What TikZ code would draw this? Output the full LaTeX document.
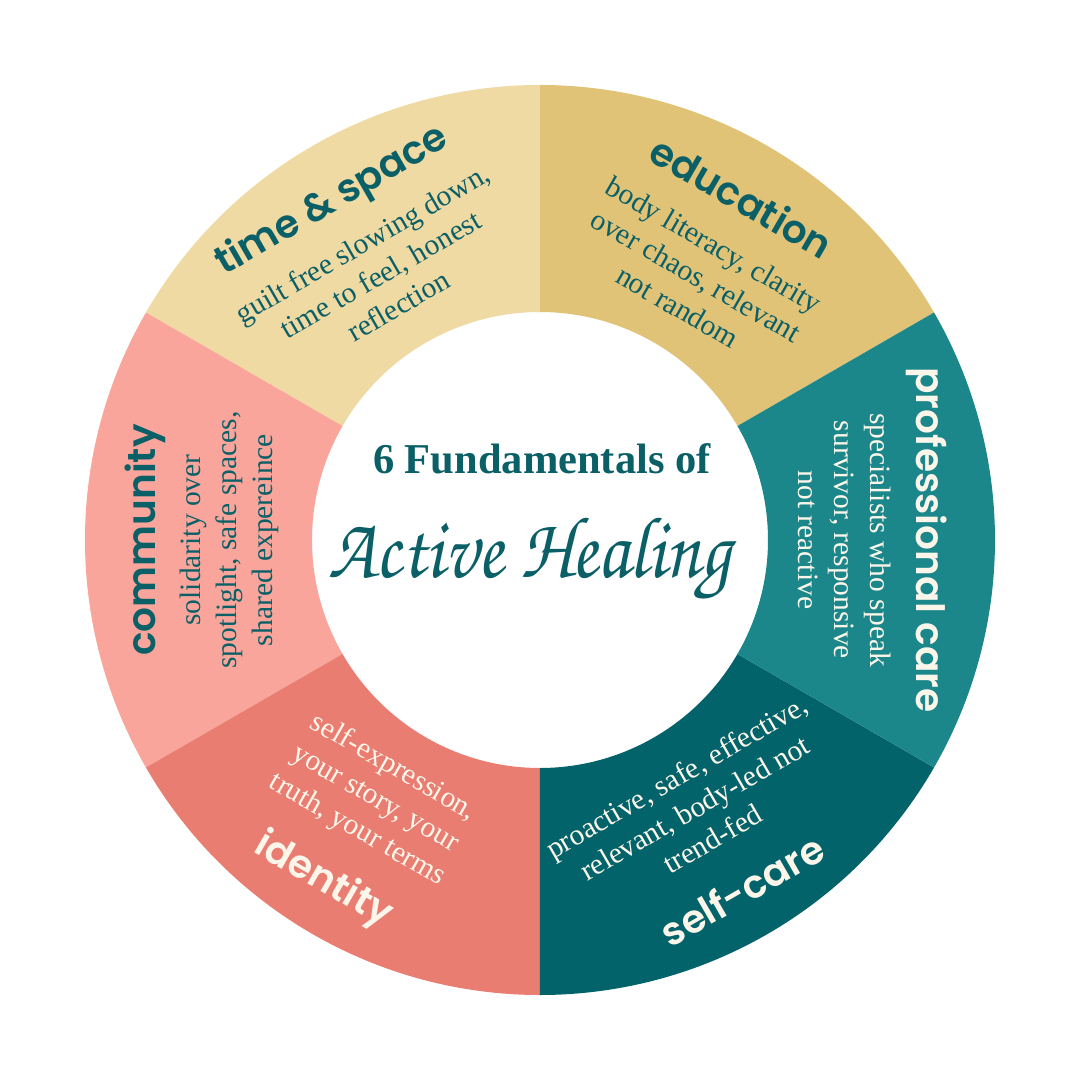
\documentclass[tikz,border=0pt]{standalone}
\usepackage{fontspec}
\setmainfont{Liberation Serif}
\newfontfamily\headfont{Poppins SemiBold}
\newfontfamily\chorusfont{texgyrechorus-mediumitalic.otf}
\definecolor{cEdu}{HTML}{E0C377}
\definecolor{cTime}{HTML}{F0DAA3}
\definecolor{cComm}{HTML}{F9A59B}
\definecolor{cIdent}{HTML}{E97D71}
\definecolor{cSelf}{HTML}{02636A}
\definecolor{cProf}{HTML}{1B878B}
\definecolor{ink}{HTML}{0B5F67}
\definecolor{cream}{HTML}{FCF6EA}
\newcommand\ringseg[3]{%
  \fill[#3] (#1:455pt) arc[start angle=#1, end angle=#2, radius=455pt]
    -- (#2:228pt) arc[start angle=#2, end angle=#1, radius=228pt] -- cycle;}
\tikzset{
  head/.style={font=\headfont\fontsize{39}{44}\selectfont, inner sep=0pt},
  body/.style={font=\fontsize{29.5}{36}\selectfont, align=center, inner sep=0pt},
}
\begin{document}
\begin{tikzpicture}[x=1pt,y=1pt]
\useasboundingbox (-540,-540) rectangle (540,540);
\fill[white] (-540,-540) rectangle (540,540);
\ringseg{30}{90}{cEdu}
\ringseg{90}{150}{cTime}
\ringseg{150}{210}{cComm}
\ringseg{210}{270}{cIdent}
\ringseg{270}{330}{cSelf}
\ringseg{-30}{30}{cProf}
% education
\node[head, text=ink, rotate=-30] (eduH) at (59.5:398pt) {education};
\node[body, text=ink, rotate=-30] (eduB) at (59.5:307pt) {body literacy, clarity\\over chaos, relevant\\not random};
% time & space
\node[head, text=ink, rotate=30] (timeH) at (121.5:397pt) {time \& space};
\node[body, text=ink, rotate=30] (timeB) at (121:310pt) {guilt free slowing down,\\time to feel, honest\\reflection};
% professional care
\node[head, text=cream, rotate=-90] (profH) at (0:387pt) {professional care};
\node[body, text=cream, rotate=-90] (profB) at (0:305pt) {specialists who speak\\survivor, responsive\\not reactive};
% community
\node[head, text=ink, rotate=90] (commH) at (180:395pt) {community};
\node[body, text=ink, rotate=90] (commB) at (180:311pt) {solidarity over\\spotlight, safe spaces,\\shared expereince};
% identity
\node[head, text=cream, rotate=-30] (identH) at (237.5:404pt) {identity};
\node[body, text=cream, rotate=-30] (identB) at (237.5:307pt) {self-expression,\\your story, your\\truth, your terms};
% self-care
\node[head, text=cream, rotate=30] (selfH) at (300:404pt) {self-care};
\node[body, text=cream, rotate=30] (selfB) at (300:309pt) {proactive, safe, effective,\\relevant, body-led not\\trend-fed};
% centre
\node[anchor=base, font=\bfseries\fontsize{42.5}{48}\selectfont, text=ink] (title) at (2,67) {6 Fundamentals of};
\node[anchor=base, font=\chorusfont\fontsize{76}{84}\selectfont, text=ink] (script) at (-10,-37) {\scalebox{1}[1.15]{Active Healing}};
\end{tikzpicture}
\end{document}
